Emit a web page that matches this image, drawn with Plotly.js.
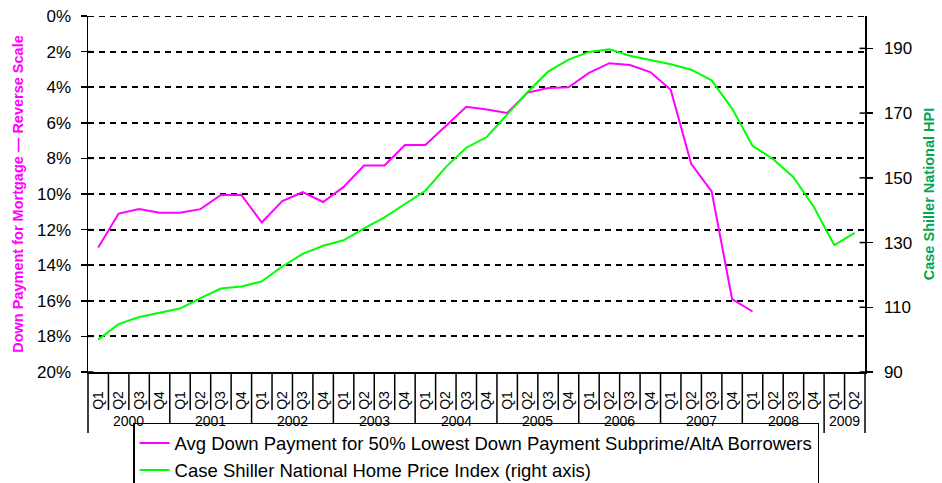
<!DOCTYPE html>
<html>
<head>
<meta charset="utf-8">
<script src="https://cdn.plot.ly/plotly-3.0.1.min.js"></script>
<style>html,body{margin:0;padding:0;background:#fff;}#chart{width:942px;height:483px;}</style>
</head>
<body>
<div id="chart"></div>
<script>
// Years and quarters, 2000 Q1 .. 2009 Q2
const years = ["2000","2000","2000","2000","2001","2001","2001","2001","2002","2002","2002","2002",
  "2003","2003","2003","2003","2004","2004","2004","2004","2005","2005","2005","2005",
  "2006","2006","2006","2006","2007","2007","2007","2007","2008","2008","2008","2008","2009","2009"];
const quarters = ["Q1","Q2","Q3","Q4","Q1","Q2","Q3","Q4","Q1","Q2","Q3","Q4",
  "Q1","Q2","Q3","Q4","Q1","Q2","Q3","Q4","Q1","Q2","Q3","Q4",
  "Q1","Q2","Q3","Q4","Q1","Q2","Q3","Q4","Q1","Q2","Q3","Q4","Q1","Q2"];

// Avg down payment (%), reverse-scaled left axis; data ends 2008 Q1
const downPayment = [13.0,11.1,10.85,11.05,11.05,10.85,10.05,10.05,11.6,10.4,9.9,10.45,
  9.6,8.4,8.4,7.25,7.25,6.15,5.1,5.25,5.45,4.3,4.05,4.0,
  3.2,2.65,2.75,3.15,4.15,8.3,9.85,15.9,16.6,null,null,null,null,null];

// Case Shiller National Home Price Index (right axis)
const caseShiller = [100.0,104.8,107.0,108.3,109.6,112.8,115.8,116.4,118.0,122.6,126.5,129.0,
  130.7,134.4,137.8,141.9,146.0,153.3,159.3,162.6,169.5,176.5,182.8,186.5,
  188.9,189.7,187.7,186.4,185.1,183.4,180.1,171.4,159.9,155.8,150.2,141.0,129.2,133.0];

const leftTicks = [0,2,4,6,8,10,12,14,16,18,20];
const leftTickText = leftTicks.map(v => v + "%");
const rightTicks = [90,110,130,150,170,190];

const FONT = "Liberation Sans, Arial, sans-serif";
const N = quarters.length;
const cats = quarters.map((q, i) => years[i] + " " + q);

const traces = [
  {
    type: "scatter", mode: "lines",
    x: cats, y: downPayment,
    name: "Avg Down Payment for 50% Lowest Down Payment Subprime/AltA Borrowers",
    line: {color: "#ff00ff", width: 2},
    yaxis: "y", connectgaps: false
  },
  {
    type: "scatter", mode: "lines",
    x: cats, y: caseShiller,
    name: "Case Shiller National Home Price Index (right axis)",
    line: {color: "#00ff00", width: 2},
    yaxis: "y2"
  }
];

// Axis decorations: quarter separators and year dividers below the x axis
const shapes = [];
const annotations = [];
let groupStart = 0;
for (let i = 1; i <= N; i++) {
  const newYear = (i === N) || years[i] !== years[i - 1];
  shapes.push({type: "line", xref: "paper", yref: "paper", x0: i / N, x1: i / N,
    y0: 0, y1: newYear ? -0.171 : -0.107, line: {color: "#000", width: 1.5}});
  if (newYear) {
    annotations.push({xref: "paper", yref: "paper", x: (groupStart + i) / 2 / N, y: -0.137,
      text: years[i - 1], showarrow: false, xanchor: "center", yanchor: "middle",
      font: {family: FONT, size: 14, color: "#000"}});
    groupStart = i;
  }
}
shapes.push({type: "line", xref: "paper", yref: "paper", x0: 0, x1: 0,
  y0: 0, y1: -0.171, line: {color: "#000", width: 1.5}});
// inner halves of the crossing tick marks on both value axes
leftTicks.forEach(v => shapes.push({type: "line", xref: "paper", yref: "y",
  x0: 0, x1: 0.007, y0: v, y1: v, line: {color: "#000", width: 1.5}}));
rightTicks.forEach(v => shapes.push({type: "line", xref: "paper", yref: "y2",
  x0: 0.993, x1: 1, y0: v, y1: v, line: {color: "#000", width: 1.5}}));
// 0% gridline at the top edge
shapes.push({type: "line", xref: "paper", yref: "y", x0: 0, x1: 1, y0: 0, y1: 0,
  line: {color: "#000", width: 2, dash: "6px,5px"}, layer: "below"});

const layout = {
  width: 942, height: 483,
  margin: {l: 88, r: 77, t: 16, b: 111, autoexpand: false},
  paper_bgcolor: "#fff", plot_bgcolor: "#fff",
  font: {family: FONT, size: 16, color: "#000"},
  showlegend: true,
  shapes: shapes,
  annotations: annotations,
  legend: {
    x: 0.058, y: -0.143, xanchor: "left", yanchor: "top",
    bgcolor: "#fff", bordercolor: "#000", borderwidth: 1.5,
    font: {family: FONT, size: 18.5, color: "#000"},
    tracegroupgap: 0
  },
  xaxis: {
    type: "category",
    range: [-0.5, N - 0.5],
    tickvals: cats, ticktext: quarters,
    showline: true, linecolor: "#000", linewidth: 1.5,
    ticks: "", showgrid: false, zeroline: false,
    tickangle: -90, ticklabelstandoff: 12,
    tickfont: {family: FONT, size: 14, color: "#000"}
  },
  yaxis: {
    range: [20, 0], tickvals: leftTicks, ticktext: leftTickText,
    showline: true, linecolor: "#000", linewidth: 1.5,
    ticks: "outside", ticklen: 6, tickcolor: "#000", tickwidth: 1.5,
    ticklabelstandoff: 6,
    showgrid: true, gridcolor: "#000", gridwidth: 2, griddash: "6px,5px",
    zeroline: false,
    tickfont: {family: FONT, size: 17, color: "#000"},
    title: {text: "Down Payment for Mortgage — Reverse Scale",
      font: {family: FONT, size: 14.5, color: "#ff00ff", weight: "bold"}, standoff: 10}
  },
  yaxis2: {
    overlaying: "y", side: "right",
    range: [90, 200], tickvals: rightTicks,
    showline: true, linecolor: "#000", linewidth: 1.5,
    ticks: "outside", ticklen: 6, tickcolor: "#000", tickwidth: 1.5,
    ticklabelstandoff: 8,
    showgrid: false, zeroline: false,
    tickfont: {family: FONT, size: 17, color: "#000"},
    title: {text: "Case Shiller National HPI",
      font: {family: FONT, size: 14.5, color: "#00a651", weight: "bold"}, standoff: 12}
  }
};

Plotly.newPlot("chart", traces, layout, {staticPlot: true, displayModeBar: false});
</script>
</body>
</html>
